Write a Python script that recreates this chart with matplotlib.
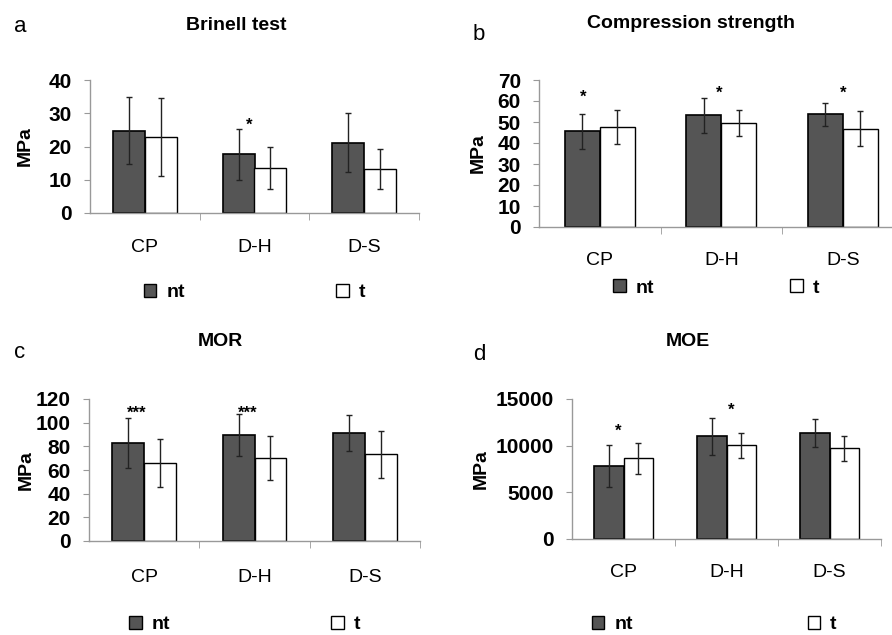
import numpy as np
import matplotlib
matplotlib.use('Agg')
import matplotlib.pyplot as plt
from matplotlib.patches import Patch

plt.rcParams['font.family'] = ['Liberation Sans', 'DejaVu Sans']

categories = ['CP', 'D-H', 'D-S']

# a - Brinell test
brinell_nt = [24.8, 17.6, 21.2]
brinell_nt_err = [10.0, 7.7, 8.8]
brinell_t = [22.8, 13.5, 13.2]
brinell_t_err = [11.8, 6.3, 5.9]
brinell_stars = ['', '*', '']
brinell_star_y = [None, 26.5, None]

# b - Compression strength
comp_nt = [45.6, 53.1, 53.6]
comp_nt_err = [8.3, 8.2, 5.6]
comp_t = [47.5, 49.3, 46.9]
comp_t_err = [8.1, 6.2, 8.3]
comp_stars = ['*', '*', '*']
comp_star_y = [62.0, 63.5, 63.5]

# c - MOR
mor_nt = [83.1, 89.9, 91.3]
mor_nt_err = [21.0, 17.7, 15.1]
mor_t = [65.6, 70.1, 73.2]
mor_t_err = [20.3, 18.6, 20.0]
mor_stars = ['***', '***', '']
mor_star_y = [108.0, 108.0, None]

# d - MOE
moe_nt = [7820, 11000, 11360]
moe_nt_err = [2290, 1980, 1540]
moe_t = [8640, 10040, 9710]
moe_t_err = [1660, 1340, 1340]
moe_stars = ['*', '*', '']
moe_star_y = [11500, 13800, None]

NT_COLOR = '#555555'
AXIS_GRAY = '#999999'
BAR_W = 0.29

panels = [
    dict(letter='a', title='Brinell test', nt=brinell_nt, nt_err=brinell_nt_err, t=brinell_t,
         t_err=brinell_t_err, stars=brinell_stars, star_y=brinell_star_y,
         rect=(90, 80, 329, 133), yticks=np.arange(0, 41, 10), star_dx=[0, -0.05, 0],
         title_xy=(236, 25), letter_xy=(20, 27), leg_xy=(0.50, -0.60), colsp=7.8,
         mpa_x=-0.196, xpad=19),
    dict(letter='b', title='Compression strength', nt=comp_nt, nt_err=comp_nt_err, t=comp_t,
         t_err=comp_t_err, stars=comp_stars, star_y=comp_star_y,
         rect=(539, 80, 364.5, 147), yticks=np.arange(0, 71, 10), star_dx=[-0.14, -0.02, 0.0],
         title_xy=(691, 23), letter_xy=(479, 35), leg_xy=(0.486, -0.415), colsp=7.0,
         mpa_x=-0.168, xpad=18),
    dict(letter='c', title='MOR', nt=mor_nt, nt_err=mor_nt_err, t=mor_t,
         t_err=mor_t_err, stars=mor_stars, star_y=mor_star_y,
         rect=(89, 399, 331, 142), yticks=np.arange(0, 121, 20), star_dx=[-0.07, -0.06, 0],
         title_xy=(220, 342), letter_xy=(20, 352), leg_xy=(0.47, -0.59), colsp=8.3,
         mpa_x=-0.19, xpad=20),
    dict(letter='d', title='MOE', nt=moe_nt, nt_err=moe_nt_err, t=moe_t,
         t_err=moe_t_err, stars=moe_stars, star_y=moe_star_y,
         rect=(572, 399, 309, 140), yticks=np.arange(0, 15001, 5000), star_dx=[-0.05, 0.05, 0],
         title_xy=(688, 342), letter_xy=(479, 355), leg_xy=(0.46, -0.61), colsp=9.0,
         mpa_x=-0.295, xpad=18),
]

W, H = 892, 635
fig = plt.figure(figsize=(W / 100, H / 100), dpi=100, facecolor='white')

x = np.arange(len(categories))
err_kw = dict(elinewidth=1.0, capthick=1.0, ecolor='#222222')

for p in panels:
    left, top, width, height = p['rect']
    ax = fig.add_axes([left / W, 1 - (top + height) / H, width / W, height / H])

    ax.bar(x - BAR_W / 2, p['nt'], BAR_W, yerr=p['nt_err'], color=NT_COLOR, edgecolor='black',
           linewidth=1.2, capsize=2.4, error_kw=err_kw, label='nt')
    ax.bar(x + BAR_W / 2, p['t'], BAR_W, yerr=p['t_err'], color='white', edgecolor='black',
           linewidth=1.0, capsize=2.4, error_kw=err_kw, label='t')

    for i, (s, sy) in enumerate(zip(p['stars'], p['star_y'])):
        if s:
            ax.text(x[i] + p['star_dx'][i], sy, s, ha='center', va='center',
                    fontsize=12, fontweight='bold')

    ax.set_xlim(-0.5, 2.5)
    ax.set_ylim(0, p['yticks'][-1])
    ax.set_yticks(p['yticks'])
    ax.set_yticklabels([str(v) for v in p['yticks']], fontsize=15, fontweight='bold')
    ax.set_xticks(x)
    ax.set_xticklabels(categories, fontsize=14)
    ax.set_xticks([0.5, 1.5, 2.5], minor=True)
    ax.tick_params(axis='x', which='major', length=0, pad=p['xpad'])
    ax.tick_params(axis='x', which='minor', length=5, color=AXIS_GRAY, direction='out')
    ax.tick_params(axis='y', length=4, color=AXIS_GRAY, pad=9)

    for side in ('top', 'right'):
        ax.spines[side].set_visible(False)
    for side in ('left', 'bottom'):
        ax.spines[side].set_color(AXIS_GRAY)
        ax.spines[side].set_linewidth(1.0)

    ax.text(p['mpa_x'], 0.5, 'MPa', rotation=90, ha='center', va='center',
            fontsize=14, fontweight='bold', transform=ax.transAxes)

    handles = [Patch(facecolor=NT_COLOR, edgecolor='black', linewidth=1.0),
               Patch(facecolor='white', edgecolor='black', linewidth=1.0)]
    ax.legend(handles, ['nt', 't'], loc='center', bbox_to_anchor=p['leg_xy'], ncol=2,
              frameon=False, handlelength=0.65, handleheight=0.65,
              handletextpad=0.5, columnspacing=p['colsp'],
              prop=dict(size=14, weight='bold'))

    fig.text(p['title_xy'][0] / W, 1 - p['title_xy'][1] / H, p['title'], ha='center',
             va='center', fontsize=14, fontweight='bold')
    fig.text(p['letter_xy'][0] / W, 1 - p['letter_xy'][1] / H, p['letter'], ha='center',
             va='center', fontsize=16)

fig.savefig('out.png', dpi=100, facecolor='white')
